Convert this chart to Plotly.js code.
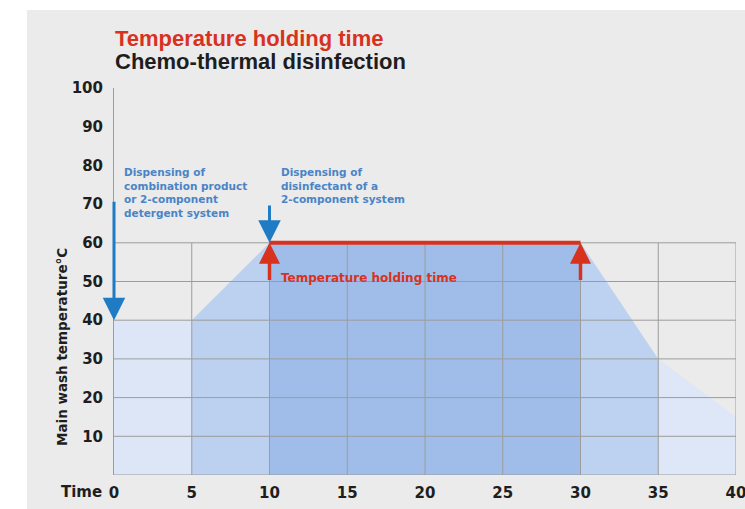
<!DOCTYPE html>
<html>
<head>
<meta charset="utf-8">
<script src="https://cdn.plot.ly/plotly-3.0.1.min.js"></script>
<style>
  html, body { margin: 0; padding: 0; background: #ffffff; }
  #chart { position: absolute; left: 27px; top: 10px; width: 718px; height: 499px; }
</style>
</head>
<body>
<div id="chart"></div>
<script>
// ---- data ----
const profileTime = [0, 5, 10, 30, 35, 40];
const profileTemp = [40, 40, 60, 60, 30, 15];
const segmentColors = ['#dce6f6', '#bcd0ef', '#9fbde8', '#bdd1f0', '#dde7f7'];

const xTicks = [0, 5, 10, 15, 20, 25, 30, 35, 40];
const yTicks = [10, 20, 30, 40, 50, 60, 70, 80, 90, 100];
const gridX = [5, 10, 15, 20, 25, 30, 35, 40];
const gridY = [0, 10, 20, 30, 40, 50, 60];
const gridTop = 60;

const holdStart = 10;
const holdEnd = 30;
const holdTemp = 60;
const holdArrowFrom = 50;

const dispenseTime = [0, 10];
const dispenseFrom = [71, 70];
const dispenseTo = [40, 60];
const dispenseText = [
  'Dispensing of<br>combination product<br>or 2-component<br>detergent system',
  'Dispensing of<br>disinfectant of a<br>2-component system'
];

const titleLine1 = 'Temperature holding time';
const titleLine2 = 'Chemo-thermal disinfection';
const holdLabel = 'Temperature holding time';
const yTitle = 'Main wash temperature°C';
const xTitle = 'Time';

// ---- styles ----
const BLUE = '#1f7bc4';
const BLUE_TXT = '#4a84c6';
const RED = '#d8321f';
const GRID = '#9c9c9c';
const TXT = '#1e1e1e';
const FONT = 'DejaVu Sans';
const TFONT = 'Liberation Sans';

// page -> paper helpers (plot area: x 114..736, y 88..475 in page px)
const px = p => (p - 114) / 622;
const py = p => (475 - p) / 387;

const traces = [];
for (let i = 0; i < profileTime.length - 1; i++) {
  traces.push({
    type: 'scatter', mode: 'lines',
    x: [profileTime[i], profileTime[i + 1]],
    y: [profileTemp[i], profileTemp[i + 1]],
    fill: 'tozeroy', fillcolor: segmentColors[i],
    line: { width: 0, color: segmentColors[i] },
    hoverinfo: 'skip', showlegend: false
  });
}
// grid
const gx = [], gy = [];
gridX.forEach(v => { gx.push(v, v, null); gy.push(0, gridTop, null); });
gridY.forEach(v => { gx.push(0, 40, null); gy.push(v, v, null); });
traces.push({
  type: 'scatter', mode: 'lines', x: gx, y: gy,
  line: { color: GRID, width: 1 }, hoverinfo: 'skip', showlegend: false
});
// holding line
traces.push({
  type: 'scatter', mode: 'lines',
  x: [holdStart, holdEnd], y: [holdTemp, holdTemp],
  line: { color: RED, width: 4 }, hoverinfo: 'skip', showlegend: false
});

const annotations = [];
// blue dispensing arrows
dispenseTime.forEach((t, i) => {
  annotations.push({
    x: t, y: dispenseTo[i], xref: 'x', yref: 'y',
    ax: t, ay: dispenseFrom[i], axref: 'x', ayref: 'y',
    text: '', showarrow: true, arrowhead: 2, arrowsize: 1.5, arrowwidth: 3,
    arrowcolor: BLUE, standoff: 0
  });
});
// red holding arrows
[holdStart, holdEnd].forEach(t => {
  annotations.push({
    x: t, y: holdTemp, xref: 'x', yref: 'y',
    ax: t, ay: holdArrowFrom, axref: 'x', ayref: 'y',
    text: '', showarrow: true, arrowhead: 2, arrowsize: 1.2, arrowwidth: 3.5,
    arrowcolor: RED, standoff: 0
  });
});
// dispensing texts
annotations.push({
  xref: 'paper', yref: 'paper', x: px(122), y: py(164), xanchor: 'left', yanchor: 'top',
  align: 'left', showarrow: false, text: dispenseText[0],
  font: { family: FONT, size: 10.5, color: BLUE_TXT, weight: 'bold' }
});
annotations.push({
  xref: 'paper', yref: 'paper', x: px(279), y: py(164), xanchor: 'left', yanchor: 'top',
  align: 'left', showarrow: false, text: dispenseText[1],
  font: { family: FONT, size: 10.5, color: BLUE_TXT, weight: 'bold' }
});
annotations.push({
  xref: 'paper', yref: 'paper', x: px(279), y: py(278), xanchor: 'left', yanchor: 'middle',
  align: 'left', showarrow: false, text: holdLabel,
  font: { family: FONT, size: 12, color: RED, weight: 'bold' }
});
// titles
annotations.push({
  xref: 'paper', yref: 'paper', x: px(113), y: py(38), xanchor: 'left', yanchor: 'middle',
  showarrow: false, text: titleLine1,
  font: { family: TFONT, size: 22, color: RED, weight: 'bold' }
});
annotations.push({
  xref: 'paper', yref: 'paper', x: px(113), y: py(62), xanchor: 'left', yanchor: 'middle',
  showarrow: false, text: titleLine2,
  font: { family: TFONT, size: 22, color: TXT, weight: 'bold' }
});
// axis titles
annotations.push({
  xref: 'paper', yref: 'paper', x: px(62), y: py(347), xanchor: 'center', yanchor: 'middle',
  showarrow: false, text: yTitle, textangle: -90,
  font: { family: FONT, size: 13.5, color: TXT, weight: 'bold' }
});
annotations.push({
  xref: 'paper', yref: 'paper', x: px(104), y: py(492), xanchor: 'right', yanchor: 'middle',
  showarrow: false, text: xTitle,
  font: { family: FONT, size: 15, color: TXT, weight: 'bold' }
});

const layout = {
  width: 718, height: 499,
  margin: { l: 87, r: 9, t: 78, b: 34 },
  paper_bgcolor: '#ebebeb', plot_bgcolor: 'rgba(0,0,0,0)',
  showlegend: false,
  xaxis: {
    range: [0, 40], tickvals: xTicks, ticktext: xTicks.map(String),
    showgrid: false, zeroline: false, showline: false, ticks: '',
    tickfont: { family: FONT, size: 15, color: TXT, weight: 'bold' },
    ticklabelstandoff: 7, ticklabeloverflow: 'allow', fixedrange: true
  },
  yaxis: {
    range: [0, 100], tickvals: yTicks, ticktext: yTicks.map(String),
    showgrid: false, zeroline: false, showline: true, linecolor: GRID, linewidth: 1,
    ticks: '',
    tickfont: { family: FONT, size: 15, color: TXT, weight: 'bold' },
    ticklabelstandoff: 7, fixedrange: true
  },
  annotations: annotations
};

Plotly.newPlot('chart', traces, layout, { displayModeBar: false, staticPlot: true });
</script>
</body>
</html>
